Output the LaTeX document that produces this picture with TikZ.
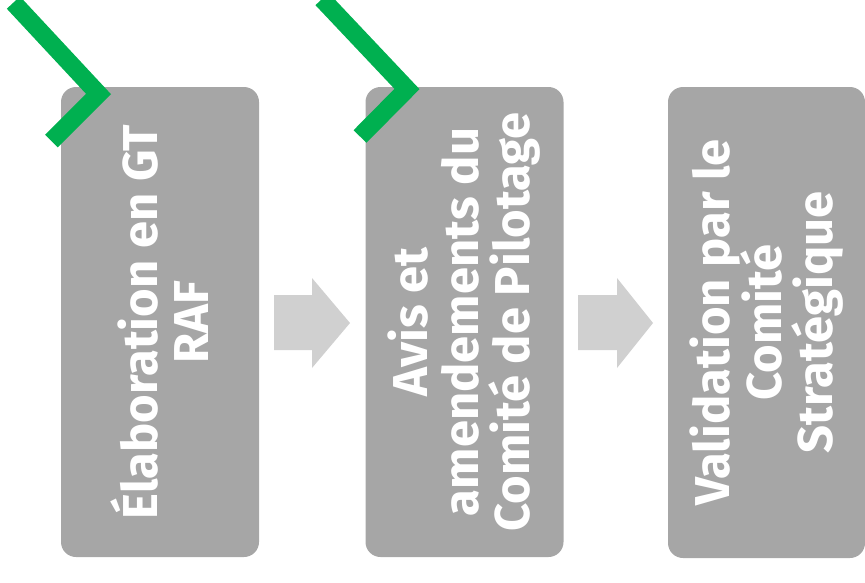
\documentclass[tikz,border=0pt]{standalone}
\usepackage{fontspec}
\setmainfont{Fira Sans}
\usetikzlibrary{calc}
\definecolor{boxgray}{HTML}{A6A6A6}
\definecolor{arrgray}{HTML}{D0D0D0}
\definecolor{chkgreen}{HTML}{00B050}
\tikzset{
  stepbox/.style={fill=boxgray, rounded corners=15pt, minimum width=198pt, minimum height=470pt, inner sep=0pt, draw=none},
  steptext/.style={rotate=90, text=white, align=center, font=\bfseries\fontsize{49}{51}\selectfont, inner sep=0pt},
  blockarrow/.style={fill=arrgray, draw=none},
  checkmark/.style={draw=chkgreen, line width=18pt, line join=miter, line cap=butt}
}
\begin{document}
\begin{tikzpicture}[x=1pt,y=-1pt]
\useasboundingbox (0,0) rectangle (865,582);
\clip (0,0) rectangle (865,582);
\node[stepbox] (b1) at (160,322) {};
\node[stepbox] (b2) at (464.5,322) {};
\node[stepbox, minimum width=197pt, minimum height=471pt] (b3) at (766.5,322.5) {};
\node[steptext] (t1) at (b1.center) {Élaboration en GT\\RAF};
\node[steptext] (t2) at (b2.center) {Avis et\\amendements du\\Comité de Pilotage};
\node[steptext] (t3) at (b3.center) {Validation par le\\Comité\\Stratégique};
% block arrows
\fill[blockarrow] (274,295) -- (312,295) -- (312,278) -- (350,323) -- (312,368) -- (312,350) -- (274,350) -- cycle;
\fill[blockarrow] (578,295) -- (617,295) -- (617,278) -- (653,323) -- (617,368) -- (617,350) -- (578,350) -- cycle;
% check marks
\coordinate (c1a) at (13.4,2.6);
\coordinate (c1b) at (98.5,94);
\coordinate (c1c) at (51.5,141);
\draw[checkmark] (c1a) -- (c1b) -- (c1c);
\coordinate (c2a) at (322,-1);
\coordinate (c2b) at (407,89);
\coordinate (c2c) at (360,136.5);
\draw[checkmark] (c2a) -- (c2b) -- (c2c);
\end{tikzpicture}
\end{document}
